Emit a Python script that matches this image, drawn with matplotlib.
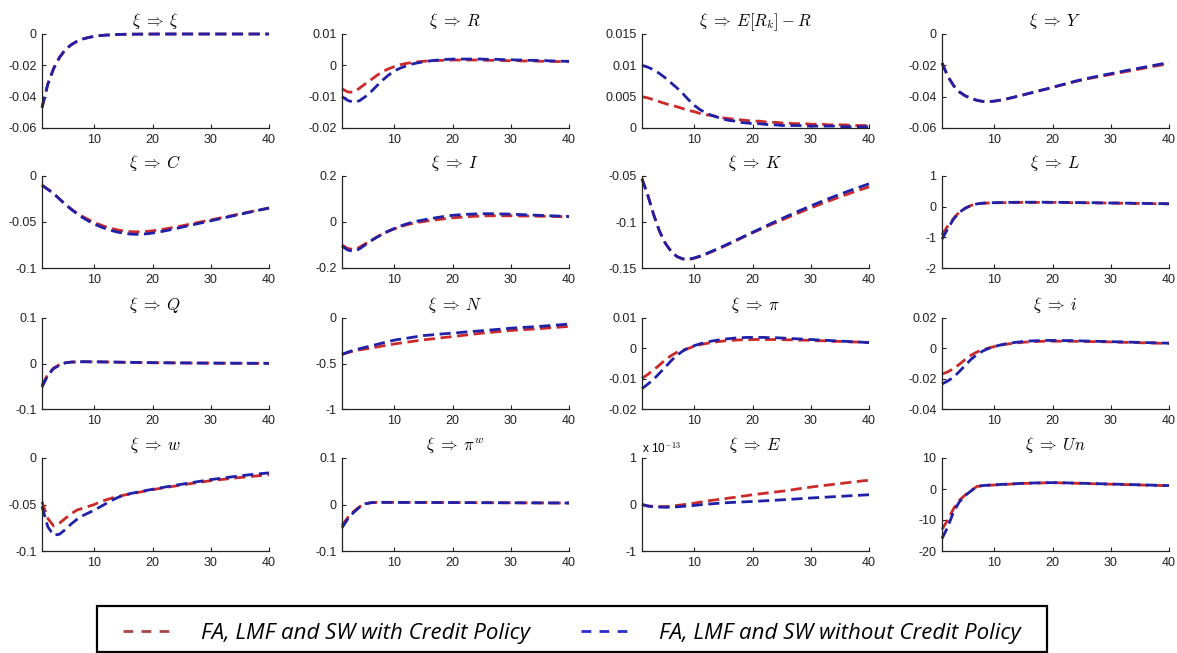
import numpy as np
import matplotlib
matplotlib.use('Agg')
import matplotlib.pyplot as plt
from matplotlib.lines import Line2D
from matplotlib.patches import Rectangle

# ---------------- data (impulse responses, periods 1..40) ----------------
xi_with = [-0.047, -0.032, -0.022, -0.015, -0.010, -0.0069, -0.0047, -0.0032, -0.0022, -0.0015,
           -0.0010, -0.0007, -0.0005, -0.0003, -0.0002, -0.00015, -0.0001, -0.00007, -0.00005, -0.00003,
           -0.00002, -0.00001, 0, 0, 0, 0, 0, 0, 0, 0,
           0, 0, 0, 0, 0, 0, 0, 0, 0, 0]
xi_without = xi_with

R_with = [-0.0075, -0.0085, -0.0086, -0.0073, -0.0059, -0.0046, -0.0032, -0.0020, -0.0011, -0.0004,
          0.0002, 0.0006, 0.0009, 0.0011, 0.0013, 0.0014, 0.0015, 0.0016, 0.0016, 0.0017,
          0.0017, 0.0017, 0.0017, 0.0017, 0.0017, 0.0016, 0.0016, 0.0016, 0.0015, 0.0015,
          0.0015, 0.0014, 0.0014, 0.0014, 0.0013, 0.0013, 0.0013, 0.0012, 0.0012, 0.0012]
R_without = [-0.0100, -0.0112, -0.0118, -0.0113, -0.0100, -0.0084, -0.0065, -0.0047, -0.0031, -0.0018,
             -0.0009, -0.0002, 0.0004, 0.0008, 0.0011, 0.0014, 0.0016, 0.0018, 0.0019, 0.0020,
             0.0020, 0.0020, 0.0020, 0.0020, 0.0020, 0.0019, 0.0019, 0.0019, 0.0018, 0.0018,
             0.0017, 0.0017, 0.0016, 0.0016, 0.0015, 0.0015, 0.0014, 0.0014, 0.0013, 0.0013]

spread_with = [0.0050, 0.0048, 0.0045, 0.0042, 0.0039, 0.0036, 0.0034, 0.0031, 0.0028, 0.0026,
               0.0023, 0.0021, 0.0020, 0.0018, 0.0016, 0.0015, 0.0014, 0.0013, 0.0012, 0.0011,
               0.0011, 0.0010, 0.0009, 0.0009, 0.0008, 0.0008, 0.0007, 0.0007, 0.0007, 0.0006,
               0.0006, 0.0006, 0.0005, 0.0005, 0.0005, 0.0005, 0.0004, 0.0004, 0.0004, 0.0004]
spread_without = [0.0100, 0.0097, 0.0093, 0.0087, 0.0080, 0.0072, 0.0064, 0.0055, 0.0045, 0.0036,
                  0.0029, 0.0024, 0.0020, 0.0017, 0.0014, 0.0012, 0.0011, 0.0009, 0.0008, 0.0007,
                  0.0007, 0.0006, 0.0005, 0.0005, 0.0004, 0.0004, 0.0004, 0.0004, 0.0003, 0.0003,
                  0.0003, 0.0003, 0.0003, 0.0003, 0.0002, 0.0002, 0.0002, 0.0002, 0.0002, 0.0002]

Y_with = [-0.0185, -0.0270, -0.0330, -0.0370, -0.0395, -0.0411, -0.0424, -0.0431, -0.0432, -0.0429,
          -0.0423, -0.0416, -0.0407, -0.0398, -0.0389, -0.0379, -0.0370, -0.0360, -0.0351, -0.0341,
          -0.0331, -0.0322, -0.0312, -0.0303, -0.0294, -0.0286, -0.0279, -0.0272, -0.0265, -0.0258,
          -0.0251, -0.0244, -0.0237, -0.0230, -0.0223, -0.0216, -0.0209, -0.0202, -0.0196, -0.0190]
Y_without = [-0.0185, -0.0270, -0.0330, -0.0370, -0.0395, -0.0410, -0.0423, -0.0430, -0.0431, -0.0428,
             -0.0422, -0.0415, -0.0406, -0.0397, -0.0388, -0.0378, -0.0369, -0.0359, -0.0350, -0.0340,
             -0.0330, -0.0320, -0.0310, -0.0300, -0.0291, -0.0283, -0.0275, -0.0268, -0.0260, -0.0253,
             -0.0246, -0.0238, -0.0231, -0.0224, -0.0217, -0.0210, -0.0203, -0.0196, -0.0189, -0.0182]

C_with = [-0.0100, -0.0145, -0.0190, -0.0250, -0.0306, -0.0358, -0.0402, -0.0441, -0.0475, -0.0505,
          -0.0531, -0.0553, -0.0571, -0.0586, -0.0597, -0.0604, -0.0607, -0.0606, -0.0602, -0.0596,
          -0.0587, -0.0577, -0.0566, -0.0554, -0.0542, -0.0529, -0.0516, -0.0503, -0.0490, -0.0477,
          -0.0464, -0.0451, -0.0438, -0.0425, -0.0412, -0.0399, -0.0386, -0.0374, -0.0362, -0.0350]
C_without = [-0.0100, -0.0145, -0.0190, -0.0250, -0.0308, -0.0362, -0.0410, -0.0453, -0.0490, -0.0522,
             -0.0550, -0.0574, -0.0594, -0.0610, -0.0622, -0.0630, -0.0634, -0.0633, -0.0628, -0.0620,
             -0.0610, -0.0598, -0.0585, -0.0571, -0.0557, -0.0543, -0.0529, -0.0515, -0.0501, -0.0487,
             -0.0473, -0.0459, -0.0445, -0.0431, -0.0417, -0.0403, -0.0389, -0.0375, -0.0361, -0.0347]

I_with = [-0.100, -0.115, -0.120, -0.110, -0.095, -0.080, -0.065, -0.052, -0.040, -0.030,
          -0.021, -0.013, -0.007, -0.002, 0.002, 0.006, 0.009, 0.012, 0.015, 0.018,
          0.020, 0.022, 0.024, 0.025, 0.026, 0.027, 0.027, 0.027, 0.027, 0.027,
          0.027, 0.026, 0.026, 0.026, 0.025, 0.025, 0.024, 0.024, 0.023, 0.023]
I_without = [-0.105, -0.122, -0.128, -0.117, -0.099, -0.082, -0.066, -0.052, -0.039, -0.028,
             -0.018, -0.009, -0.002, 0.004, 0.009, 0.014, 0.018, 0.022, 0.026, 0.029,
             0.031, 0.033, 0.034, 0.035, 0.036, 0.036, 0.036, 0.035, 0.035, 0.034,
             0.033, 0.032, 0.031, 0.030, 0.029, 0.028, 0.027, 0.026, 0.025, 0.024]

K_with = [-0.053, -0.071, -0.092, -0.110, -0.123, -0.132, -0.1377, -0.1403, -0.1408, -0.1394,
          -0.1374, -0.1350, -0.1323, -0.1295, -0.1267, -0.1238, -0.1208, -0.1177, -0.1147, -0.1117,
          -0.1089, -0.1061, -0.1033, -0.1006, -0.0979, -0.0952, -0.0925, -0.0899, -0.0873, -0.0848,
          -0.0823, -0.0798, -0.0774, -0.0750, -0.0727, -0.0704, -0.0682, -0.0660, -0.0639, -0.0618]
K_without = [-0.053, -0.071, -0.092, -0.110, -0.123, -0.132, -0.1375, -0.1400, -0.1405, -0.1390,
             -0.1370, -0.1345, -0.1318, -0.1290, -0.1262, -0.1232, -0.1202, -0.1172, -0.1142, -0.1112,
             -0.1082, -0.1052, -0.1022, -0.0993, -0.0964, -0.0935, -0.0907, -0.0879, -0.0852, -0.0825,
             -0.0799, -0.0773, -0.0748, -0.0723, -0.0699, -0.0675, -0.0652, -0.0629, -0.0607, -0.0585]

L_with = [-0.92, -0.63, -0.38, -0.17, -0.05, 0.04, 0.09, 0.11, 0.12, 0.125,
          0.13, 0.13, 0.135, 0.135, 0.14, 0.14, 0.14, 0.14, 0.14, 0.14,
          0.135, 0.135, 0.13, 0.13, 0.13, 0.125, 0.125, 0.12, 0.12, 0.115,
          0.115, 0.11, 0.11, 0.105, 0.105, 0.10, 0.10, 0.095, 0.095, 0.09]
L_without = [-1.06, -0.72, -0.40, -0.18, -0.05, 0.04, 0.09, 0.115, 0.125, 0.13,
             0.135, 0.14, 0.14, 0.145, 0.145, 0.145, 0.145, 0.145, 0.145, 0.14,
             0.14, 0.14, 0.135, 0.135, 0.13, 0.13, 0.13, 0.125, 0.125, 0.12,
             0.12, 0.115, 0.115, 0.11, 0.11, 0.105, 0.105, 0.10, 0.10, 0.095]

Q_with = [-0.048, -0.024, -0.010, -0.003, 0.0015, 0.0030, 0.0036, 0.0038, 0.0037, 0.0036,
          0.0035, 0.0033, 0.0031, 0.0029, 0.0027, 0.0025, 0.0023, 0.0021, 0.0019, 0.0017,
          0.0016, 0.0015, 0.0014, 0.0013, 0.0012, 0.0011, 0.0010, 0.0009, 0.0009, 0.0008,
          0.0007, 0.0007, 0.0006, 0.0006, 0.0005, 0.0005, 0.0004, 0.0004, 0.0004, 0.0003]
Q_without = [-0.052, -0.026, -0.011, -0.004, 0.0015, 0.0031, 0.0037, 0.0039, 0.0038, 0.0037,
             0.0036, 0.0034, 0.0032, 0.0030, 0.0028, 0.0026, 0.0024, 0.0022, 0.0020, 0.0018,
             0.0017, 0.0016, 0.0015, 0.0014, 0.0013, 0.0012, 0.0011, 0.0010, 0.0009, 0.0008,
             0.0008, 0.0007, 0.0007, 0.0006, 0.0006, 0.0005, 0.0005, 0.0004, 0.0004, 0.0003]

N_with = [-0.400, -0.380, -0.363, -0.350, -0.340, -0.330, -0.319, -0.307, -0.296, -0.285,
          -0.276, -0.267, -0.258, -0.249, -0.240, -0.233, -0.226, -0.218, -0.211, -0.204,
          -0.197, -0.189, -0.182, -0.174, -0.167, -0.161, -0.155, -0.149, -0.143, -0.137,
          -0.133, -0.129, -0.125, -0.121, -0.117, -0.112, -0.107, -0.102, -0.097, -0.093]
N_without = [-0.400, -0.375, -0.355, -0.338, -0.322, -0.306, -0.290, -0.274, -0.258, -0.243,
             -0.233, -0.223, -0.213, -0.203, -0.193, -0.188, -0.182, -0.176, -0.171, -0.166,
             -0.161, -0.155, -0.150, -0.145, -0.140, -0.135, -0.129, -0.124, -0.118, -0.112,
             -0.108, -0.104, -0.100, -0.096, -0.092, -0.087, -0.082, -0.077, -0.072, -0.067]

pi_with = [-0.0099, -0.0086, -0.0071, -0.0055, -0.0038, -0.0024, -0.0013, -0.0006, 0.0000, 0.0007,
           0.0012, 0.0016, 0.0019, 0.0022, 0.0024, 0.0026, 0.0027, 0.0028, 0.0028, 0.0029,
           0.0029, 0.0029, 0.0029, 0.0029, 0.0029, 0.0028, 0.0028, 0.0027, 0.0027, 0.0026,
           0.0025, 0.0025, 0.0024, 0.0023, 0.0023, 0.0022, 0.0021, 0.0021, 0.0020, 0.0019]
pi_without = [-0.0133, -0.0118, -0.0102, -0.0082, -0.0062, -0.0041, -0.0023, -0.0009, 0.0001, 0.0009,
              0.0015, 0.0020, 0.0024, 0.0027, 0.0030, 0.0032, 0.0034, 0.0035, 0.0036, 0.0036,
              0.0036, 0.0036, 0.0035, 0.0035, 0.0034, 0.0033, 0.0032, 0.0031, 0.0030, 0.0029,
              0.0028, 0.0027, 0.0026, 0.0025, 0.0024, 0.0023, 0.0022, 0.0021, 0.0020, 0.0019]

i_with = [-0.0170, -0.0155, -0.0133, -0.0105, -0.0073, -0.0045, -0.0024, -0.0009, 0.0002, 0.0012,
          0.0020, 0.0027, 0.0032, 0.0036, 0.0040, 0.0043, 0.0045, 0.0046, 0.0047, 0.0047,
          0.0047, 0.0047, 0.0047, 0.0046, 0.0046, 0.0045, 0.0044, 0.0044, 0.0043, 0.0042,
          0.0041, 0.0040, 0.0039, 0.0038, 0.0037, 0.0036, 0.0035, 0.0034, 0.0033, 0.0033]
i_without = [-0.0235, -0.0215, -0.0190, -0.0152, -0.0112, -0.0072, -0.0042, -0.0018, -0.0001, 0.0012,
             0.0022, 0.0030, 0.0036, 0.0041, 0.0045, 0.0048, 0.0050, 0.0051, 0.0052, 0.0052,
             0.0052, 0.0051, 0.0051, 0.0050, 0.0049, 0.0048, 0.0047, 0.0046, 0.0045, 0.0044,
             0.0043, 0.0042, 0.0041, 0.0040, 0.0039, 0.0038, 0.0037, 0.0036, 0.0035, 0.0034]

w_with = [-0.047, -0.065, -0.073, -0.070, -0.065, -0.060, -0.056, -0.054, -0.052, -0.050,
          -0.047, -0.045, -0.043, -0.0415, -0.0400, -0.0388, -0.0376, -0.0364, -0.0352, -0.0340,
          -0.0330, -0.0320, -0.0310, -0.0300, -0.0290, -0.0280, -0.0271, -0.0262, -0.0253, -0.0244,
          -0.0237, -0.0230, -0.0223, -0.0216, -0.0210, -0.0204, -0.0198, -0.0192, -0.0186, -0.0180]
w_without = [-0.052, -0.074, -0.083, -0.082, -0.077, -0.071, -0.066, -0.062, -0.059, -0.056,
             -0.0525, -0.049, -0.0455, -0.0425, -0.0400, -0.0385, -0.0372, -0.0360, -0.0348, -0.0336,
             -0.0325, -0.0314, -0.0303, -0.0292, -0.0282, -0.0272, -0.0262, -0.0252, -0.0242, -0.0232,
             -0.0224, -0.0216, -0.0208, -0.0200, -0.0192, -0.0185, -0.0178, -0.0172, -0.0166, -0.0160]

piw_with = [-0.045, -0.028, -0.015, -0.005, 0.0015, 0.0040, 0.0045, 0.0046, 0.0046, 0.0046,
            0.0045, 0.0045, 0.0045, 0.0044, 0.0044, 0.0044, 0.0043, 0.0043, 0.0042, 0.0042,
            0.0041, 0.0041, 0.0040, 0.0040, 0.0039, 0.0039, 0.0038, 0.0038, 0.0037, 0.0037,
            0.0036, 0.0036, 0.0035, 0.0035, 0.0034, 0.0034, 0.0033, 0.0033, 0.0032, 0.0032]
piw_without = [-0.050, -0.031, -0.017, -0.006, 0.0015, 0.0040, 0.0045, 0.0046, 0.0046, 0.0046,
               0.0045, 0.0045, 0.0045, 0.0044, 0.0044, 0.0044, 0.0043, 0.0043, 0.0042, 0.0042,
               0.0041, 0.0041, 0.0040, 0.0040, 0.0039, 0.0039, 0.0038, 0.0038, 0.0037, 0.0037,
               0.0036, 0.0036, 0.0035, 0.0035, 0.0034, 0.0034, 0.0033, 0.0033, 0.0032, 0.0032]

E_unit = 1e-13
E_with = [0.00, -0.03, -0.04, -0.045, -0.045, -0.035, -0.02, -0.005, 0.01, 0.03,
          0.05, 0.07, 0.09, 0.105, 0.12, 0.14, 0.155, 0.175, 0.19, 0.21,
          0.225, 0.24, 0.255, 0.27, 0.285, 0.30, 0.32, 0.34, 0.355, 0.375,
          0.39, 0.405, 0.42, 0.435, 0.45, 0.465, 0.48, 0.495, 0.51, 0.52]
E_without = [0.00, -0.035, -0.05, -0.055, -0.06, -0.058, -0.05, -0.04, -0.03, -0.02,
             -0.005, 0.005, 0.015, 0.025, 0.035, 0.042, 0.048, 0.054, 0.06, 0.065,
             0.072, 0.079, 0.086, 0.093, 0.10, 0.108, 0.116, 0.124, 0.132, 0.14,
             0.147, 0.154, 0.161, 0.168, 0.175, 0.182, 0.189, 0.196, 0.203, 0.21]

Un_with = [-13.0, -10.0, -6.3, -3.6, -1.9, -0.5, 0.8, 1.1, 1.2, 1.3,
           1.4, 1.5, 1.6, 1.7, 1.8, 1.85, 1.9, 1.95, 2.0, 2.0,
           2.0, 1.95, 1.9, 1.85, 1.8, 1.75, 1.7, 1.65, 1.6, 1.55,
           1.5, 1.45, 1.4, 1.35, 1.3, 1.25, 1.2, 1.15, 1.1, 1.1]
Un_without = [-16.0, -12.2, -7.3, -4.1, -2.1, -0.6, 0.8, 1.1, 1.25, 1.35,
              1.45, 1.55, 1.65, 1.75, 1.85, 1.9, 1.95, 2.0, 2.05, 2.05,
              2.05, 2.0, 1.95, 1.9, 1.85, 1.8, 1.75, 1.7, 1.65, 1.6,
              1.55, 1.5, 1.45, 1.4, 1.35, 1.3, 1.25, 1.2, 1.15, 1.1]

titles = [r'$\xi\;\Rightarrow\;\xi$', r'$\xi\;\Rightarrow\;R$', r'$\xi\;\Rightarrow\;E[R_k]-R$', r'$\xi\;\Rightarrow\;Y$',
          r'$\xi\;\Rightarrow\;C$', r'$\xi\;\Rightarrow\;I$', r'$\xi\;\Rightarrow\;K$', r'$\xi\;\Rightarrow\;L$',
          r'$\xi\;\Rightarrow\;Q$', r'$\xi\;\Rightarrow\;N$', r'$\xi\;\Rightarrow\;\pi$', r'$\xi\;\Rightarrow\;i$',
          r'$\xi\;\Rightarrow\;w$', r'$\xi\;\Rightarrow\;\pi^w$', r'$\xi\;\Rightarrow\;E$', r'$\xi\;\Rightarrow\;Un$']
series_with = [xi_with, R_with, spread_with, Y_with, C_with, I_with, K_with, L_with,
               Q_with, N_with, pi_with, i_with, w_with, piw_with,
               list(np.array(E_with) * E_unit), Un_with]
series_without = [xi_without, R_without, spread_without, Y_without, C_without, I_without, K_without, L_without,
                  Q_without, N_without, pi_without, i_without, w_without, piw_without,
                  list(np.array(E_without) * E_unit), Un_without]
yticks = [[-0.06, -0.04, -0.02, 0], [-0.02, -0.01, 0, 0.01], [0, 0.005, 0.01, 0.015], [-0.06, -0.04, -0.02, 0],
          [-0.1, -0.05, 0], [-0.2, 0, 0.2], [-0.15, -0.1, -0.05], [-2, -1, 0, 1],
          [-0.1, 0, 0.1], [-1, -0.5, 0], [-0.02, -0.01, 0, 0.01], [-0.04, -0.02, 0, 0.02],
          [-0.1, -0.05, 0], [-0.1, 0, 0.1], [-1, 0, 1], [-20, -10, 0, 10]]
xticks = [10, 20, 30, 40]
legend_labels = ['FA, LMF and SW with Credit Policy', 'FA, LMF and SW without Credit Policy']

# ---------------- style ----------------
plt.rcParams['font.family'] = ['Liberation Sans', 'DejaVu Sans']
plt.rcParams['mathtext.fontset'] = 'cm'
plt.rcParams['axes.unicode_minus'] = False

RED = '#cc2a2a'
BLUE = '#2020a8'
W, H = 1177, 653
fig = plt.figure(figsize=(W / 100, H / 100), dpi=100)

col_left = [42, 342, 642, 942]
ax_w = 227
row_top = [34, 176, 318, 458]
row_bot = [128, 268, 409, 551]

for k in range(16):
    r, c = divmod(k, 4)
    ax = fig.add_axes([col_left[c] / W, 1 - row_bot[r] / H, ax_w / W, (row_bot[r] - row_top[r]) / H])
    yw = series_with[k]
    yo = series_without[k]
    ax.plot(np.arange(1, len(yw) + 1), yw, color=RED, lw=2.0, ls=(0, (4.0, 2.0)), clip_on=False)
    ax.plot(np.arange(1, len(yo) + 1), yo, color=BLUE, lw=2.0, ls=(0, (4.0, 2.0)), clip_on=False)
    ax.set_xlim(1, 40)
    yt = yticks[k]
    if k == 14:
        ax.set_ylim(yt[0] * E_unit, yt[-1] * E_unit)
        ax.set_yticks([t * E_unit for t in yt])
        ax.set_yticklabels(['%g' % t for t in yt])
        ax.text(0.0, 1.03, r'x 10$^{\mathsf{-13}}$', transform=ax.transAxes, ha='left', va='bottom',
                fontsize=8.5)
    else:
        ax.set_ylim(yt[0], yt[-1])
        ax.set_yticks(yt)
        ax.set_yticklabels(['%g' % t for t in yt])
    ax.set_xticks(xticks)
    ax.set_xticklabels([str(t) for t in xticks])
    for s in ['top', 'right']:
        ax.spines[s].set_visible(False)
    for s in ['left', 'bottom']:
        ax.spines[s].set_linewidth(0.9)
        ax.spines[s].set_color('#222222')
    ax.tick_params(direction='in', length=3, width=0.8, labelsize=9, pad=4, colors='#222222')
    ax.patch.set_alpha(0)
    ax.set_title(titles[k], fontsize=12, pad=6)

# legend box
rect = Rectangle((97 / W, 1 - 652 / H), 950 / W, 46 / H, transform=fig.transFigure,
                 fill=False, edgecolor='black', linewidth=1.6)
fig.add_artist(rect)
handles = [Line2D([], [], color='#a84444', lw=2, ls=(0, (3.5, 3.0))),
           Line2D([], [], color='#2b2bd0', lw=2, ls=(0, (3.5, 3.0)))]
fig.legend(handles, legend_labels, loc='center left', ncol=2, frameon=False,
           bbox_to_anchor=(123 / W, 1 - 633 / H),
           borderpad=0, borderaxespad=0, handlelength=2.2, handletextpad=1.3, columnspacing=2.3,
           prop={'family': 'Open Sans', 'style': 'italic', 'size': 16})

fig.savefig('out.png', dpi=100)
